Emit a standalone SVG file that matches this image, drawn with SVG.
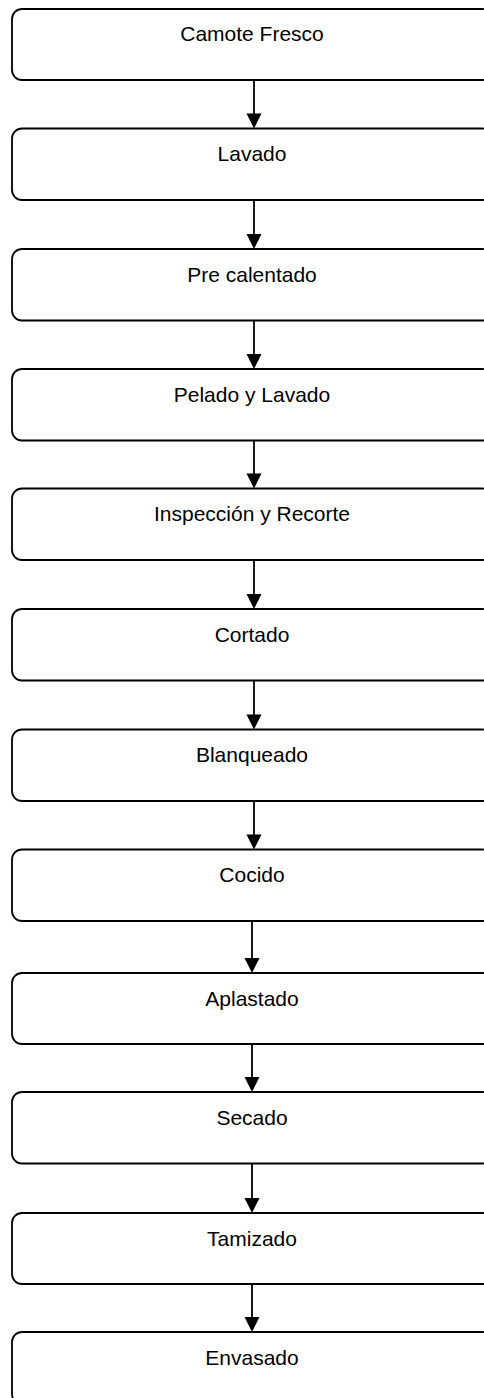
<svg xmlns="http://www.w3.org/2000/svg" width="484" height="1398" viewBox="0 0 484 1398">
<style>
.box{fill:#fff;stroke:#000;stroke-width:1.8}
.lbl{font-family:"Liberation Sans",Arial,sans-serif;font-size:21px;fill:#000;text-anchor:middle}
.ln{stroke:#000;stroke-width:1.8;fill:none}
.ah{fill:#000;stroke:none}
</style>
<rect width="484" height="1398" fill="#fff"/>
<g id="connectors">
<line class="ln" x1="254" y1="80" x2="254" y2="116"/><polygon class="ah" points="246.5,113.5 261.5,113.5 254,128.5"/>
<line class="ln" x1="254" y1="200" x2="254" y2="236"/><polygon class="ah" points="246.5,234 261.5,234 254,249"/>
<line class="ln" x1="254" y1="320.5" x2="254" y2="356"/><polygon class="ah" points="246.5,354 261.5,354 254,369"/>
<line class="ln" x1="254" y1="440.5" x2="254" y2="476"/><polygon class="ah" points="246.5,473.5 261.5,473.5 254,488.5"/>
<line class="ln" x1="254" y1="560" x2="254" y2="596"/><polygon class="ah" points="246.5,594 261.5,594 254,609"/>
<line class="ln" x1="254" y1="680.5" x2="254" y2="716"/><polygon class="ah" points="246.5,714.5 261.5,714.5 254,729.5"/>
<line class="ln" x1="254" y1="801" x2="254" y2="836"/><polygon class="ah" points="246.5,834.5 261.5,834.5 254,849.5"/>
<line class="ln" x1="252" y1="921" x2="252" y2="960"/><polygon class="ah" points="244.5,958 259.5,958 252,973"/>
<line class="ln" x1="252" y1="1044" x2="252" y2="1079"/><polygon class="ah" points="244.5,1077 259.5,1077 252,1092"/>
<line class="ln" x1="252" y1="1163.5" x2="252" y2="1200"/><polygon class="ah" points="244.5,1198 259.5,1198 252,1213"/>
<line class="ln" x1="252" y1="1284" x2="252" y2="1319"/><polygon class="ah" points="244.5,1317 259.5,1317 252,1332"/>
</g>
<g id="n1"><rect class="box" x="12" y="9" width="480" height="71" rx="10"/><text class="lbl" x="252" y="41">Camote Fresco</text></g>
<g id="n2"><rect class="box" x="12" y="128.5" width="480" height="71.5" rx="10"/><text class="lbl" x="252" y="161">Lavado</text></g>
<g id="n3"><rect class="box" x="12" y="249" width="480" height="71.5" rx="10"/><text class="lbl" x="252" y="281.5">Pre calentado</text></g>
<g id="n4"><rect class="box" x="12" y="369" width="480" height="71.5" rx="10"/><text class="lbl" x="252" y="401.5">Pelado y Lavado</text></g>
<g id="n5"><rect class="box" x="12" y="488.5" width="480" height="71.5" rx="10"/><text class="lbl" x="252" y="521">Inspección y Recorte</text></g>
<g id="n6"><rect class="box" x="12" y="609" width="480" height="71.5" rx="10"/><text class="lbl" x="252" y="641.5">Cortado</text></g>
<g id="n7"><rect class="box" x="12" y="729.5" width="480" height="71.5" rx="10"/><text class="lbl" x="252" y="762">Blanqueado</text></g>
<g id="n8"><rect class="box" x="12" y="849.5" width="480" height="71.5" rx="10"/><text class="lbl" x="252" y="882">Cocido</text></g>
<g id="n9"><rect class="box" x="12" y="973" width="480" height="71" rx="10"/><text class="lbl" x="252" y="1005.5">Aplastado</text></g>
<g id="n10"><rect class="box" x="12" y="1092" width="480" height="71.5" rx="10"/><text class="lbl" x="252" y="1124.5">Secado</text></g>
<g id="n11"><rect class="box" x="12" y="1213" width="480" height="71" rx="10"/><text class="lbl" x="252" y="1245.5">Tamizado</text></g>
<g id="n12"><rect class="box" x="12" y="1332" width="480" height="72" rx="10"/><text class="lbl" x="252" y="1364.5">Envasado</text></g>
</svg>
